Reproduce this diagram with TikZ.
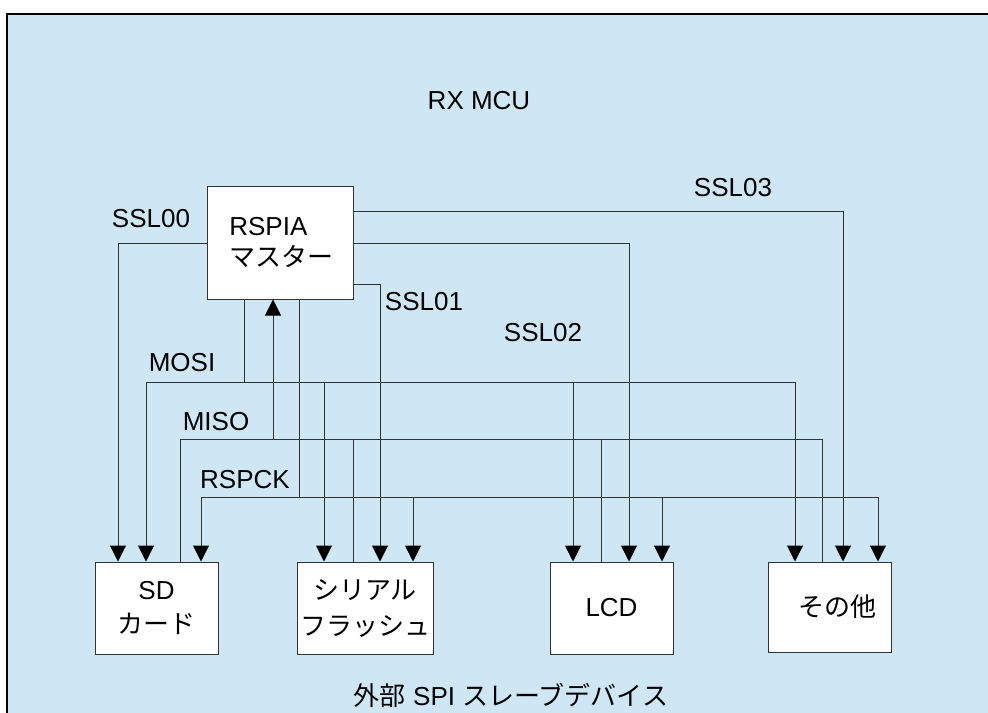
\documentclass[tikz,border=0pt]{standalone}
\usepackage{fontspec}
\setmainfont{Liberation Sans}
\newfontfamily\jp{Noto Sans CJK JP}
\usetikzlibrary{arrows.meta}
\definecolor{fond}{HTML}{CFE6F4}
\definecolor{trait}{HTML}{333333}
\tikzset{
  every node/.style={font=\fontsize{19.5}{25}\selectfont, inner sep=0pt},
  bloc/.style={draw=trait, fill=white, line width=0.75pt, align=center, minimum height=69pt},
  sig/.style={draw=trait, line width=0.75pt},
  arr/.style={sig, -{Triangle[length=12pt,width=12pt,color=black]}}
}
\begin{document}
\begin{tikzpicture}[x=0.75pt, y=-0.75pt]
			\useasboundingbox (0,0) rectangle (988,713);
			\clip (0,0) rectangle (988,713);
			%Fond du MCU
			\fill[white] (0,0) rectangle (988,713);
			\draw[fill=fond, line width=1pt] (7,14) rectangle (1000,730);
			%Blocs
			\node[bloc, align=left, minimum width=109.5pt, minimum height=84.75pt, font=\fontsize{19.5}{23.5}\selectfont] (master) at (280,242.5) {\hspace*{2pt}RSPIA\\\hspace*{2pt}{\jp マスター}};
			\node[bloc, minimum width=92.25pt] (sd) at (156.5,608) {SD\\{\jp カード}};
			\node[bloc, minimum width=102pt, font=\fontsize{19.5}{27}\selectfont] (flash) at (365,608) {{\jp シリアル}\\{\jp フラッシュ}};
			\node[bloc, minimum width=92.25pt] (lcd) at (611.5,608) {LCD};
			\node[bloc, minimum width=92.25pt, minimum height=67.5pt] (other) at (829.5,607) {\hspace*{12pt}{\jp その他}};
			%Textes
			\node (mcu) at (479,101) {RX MCU};
			\node (slaves) at (511,695) {{\jp 外部} SPI {\jp スレーブデバイス}};
			\node (lssl0) at (151,219) {SSL00};
			\node (lssl1) at (424,302) {SSL01};
			\node (lssl2) at (543,333) {SSL02};
			\node (lssl3) at (733,188) {SSL03};
			\node (lmosi) at (182,363) {MOSI};
			\node (lmiso) at (216,422) {MISO};
			\node (lrspck) at (245,480) {RSPCK};
			%Points des bus
			\coordinate (ssl0) at (118,243);
			\coordinate (ssl1) at (380,284);
			\coordinate (ssl2) at (629,243);
			\coordinate (ssl3) at (843,211);
			\coordinate (mosi) at (244,382);
			\coordinate (mosiA) at (146,382);
			\coordinate (mosiB) at (324,382);
			\coordinate (mosiC) at (573,382);
			\coordinate (mosiD) at (795,382);
			\coordinate (miso) at (273,439);
			\coordinate (misoA) at (180,439);
			\coordinate (misoB) at (353,439);
			\coordinate (misoC) at (601,439);
			\coordinate (misoD) at (822,439);
			\coordinate (sck) at (299,497);
			\coordinate (sckA) at (201,497);
			\coordinate (sckB) at (413,497);
			\coordinate (sckC) at (662,497);
			\coordinate (sckD) at (878,497);
			%Selection esclave
			\draw[arr] (master.west |- ssl0) -- (ssl0) -- (ssl0 |- sd.north);
			\draw[arr] (master.east |- ssl1) -- (ssl1) -- (ssl1 |- flash.north);
			\draw[arr] (master.east |- ssl2) -- (ssl2) -- (ssl2 |- lcd.north);
			\draw[arr] (master.east |- ssl3) -- (ssl3) -- (ssl3 |- other.north);
			%MOSI
			\draw[sig] (mosi |- master.south) -- (mosi);
			\draw[arr] (mosi) -- (mosiA) -- (mosiA |- sd.north);
			\draw[arr] (mosiB) -- (mosiB |- flash.north);
			\draw[arr] (mosiC) -- (mosiC |- lcd.north);
			\draw[arr] (mosi) -- (mosiD) -- (mosiD |- other.north);
			%MISO
			\draw[arr] (miso) -- (miso |- master.south);
			\draw[sig] (misoA |- sd.north) -- (misoA) -- (misoD) -- (misoD |- other.north);
			\draw[sig] (misoB) -- (misoB |- flash.north);
			\draw[sig] (misoC) -- (misoC |- lcd.north);
			%RSPCK
			\draw[sig] (sck |- master.south) -- (sck);
			\draw[arr] (sck) -- (sckA) -- (sckA |- sd.north);
			\draw[arr] (sckB) -- (sckB |- flash.north);
			\draw[arr] (sckC) -- (sckC |- lcd.north);
			\draw[arr] (sck) -- (sckD) -- (sckD |- other.north);
\end{tikzpicture}
\end{document}
